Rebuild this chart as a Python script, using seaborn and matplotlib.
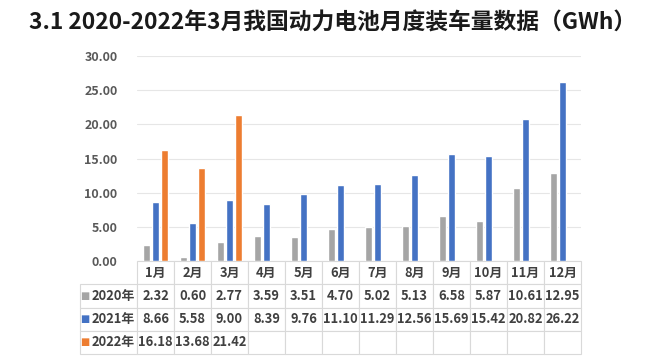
import numpy as np
import pandas as pd
import matplotlib
matplotlib.use('Agg')
import matplotlib.pyplot as plt
import seaborn as sns
from matplotlib.table import Table

# ── data ──────────────────────────────────────────────
MONTHS = ['1月', '2月', '3月', '4月', '5月', '6月',
          '7月', '8月', '9月', '10月', '11月', '12月']
YEARS = ['2020年', '2021年', '2022年']
V2020 = [2.32, 0.60, 2.77, 3.59, 3.51, 4.70, 5.02, 5.13, 6.58, 5.87, 10.61, 12.95]
V2021 = [8.66, 5.58, 9.00, 8.39, 9.76, 11.10, 11.29, 12.56, 15.69, 15.42, 20.82, 26.22]
V2022 = [16.18, 13.68, 21.42] + [np.nan] * 9
COLORS = ['#A5A5A5', '#4472C4', '#ED7D31']
TITLE = '3.1 2020-2022年3月我国动力电池月度装车量数据（GWh）'

sns.set_theme(style='white')
plt.rcParams['font.family'] = ['Noto Sans CJK SC', 'DejaVu Sans']

rows = []
for yr, vals in zip(YEARS, [V2020, V2021, V2022]):
    for m, v in zip(MONTHS, vals):
        rows.append({'month': m, 'year': yr, 'value': v})
df = pd.DataFrame(rows)

fig = plt.figure(figsize=(6.5, 3.59), dpi=100)
ax = fig.add_axes([137 / 650, 1 - 261 / 359, 444 / 650, 205 / 359])

sns.barplot(data=df, x='month', y='value', hue='year', order=MONTHS,
            hue_order=YEARS, palette=COLORS, width=0.7, gap=0.18,
            errorbar=None, ax=ax, legend=False, saturation=1)

ax.set_ylim(0, 30)
ax.set_xlim(-0.5, 11.5)
ax.set_yticks(np.arange(0, 31, 5))
ax.set_yticklabels([f'{t:.2f}' for t in np.arange(0, 31, 5)],
                   fontweight='bold', color='#595959', fontsize=9)
ax.set_xticklabels([])
ax.tick_params(axis='both', length=0)
ax.tick_params(axis='y', pad=14)
ax.set_xlabel('')
ax.set_ylabel('')
ax.yaxis.grid(True, color='#E6E6E6', linewidth=0.8)
ax.set_axisbelow(True)
for s in ax.spines.values():
    s.set_visible(False)

# ── data table under the chart ───────────────────────
x0 = -57 / 444
tbl = Table(ax, bbox=[x0, -93 / 205, 1 - x0, 93 / 205])
lab_w, col_w, row_h = 57, 37, 23
table_rows = [[''] + MONTHS]
for yr, vals in zip(YEARS, [V2020, V2021, V2022]):
    table_rows.append([yr] + ['' if np.isnan(v) else f'{v:.2f}' for v in vals])

for r, row in enumerate(table_rows):
    for c, txt in enumerate(row):
        w = lab_w if c == 0 else col_w
        loc = 'right' if c == 0 else 'center'
        cell = tbl.add_cell(r, c, width=w, height=row_h, text=txt, loc=loc,
                            edgecolor='#D9D9D9', facecolor='white')
        cell.set_linewidth(0.8)
        if r == 0 and c == 0:
            cell.visible_edges = ''
        cell.PAD = 0.04
        cell.get_text().set_fontweight('bold')
        cell.get_text().set_color('#404040')
tbl.auto_set_font_size(False)
tbl.set_fontsize(9.3)
ax.add_table(tbl)

# legend squares in the row labels
for i, col in enumerate(COLORS):
    yc = (261 - (296 + 23 * i)) / 205
    ax.text(-0.118, yc, '■', color=col, fontsize=7, ha='center', va='center',
            transform=ax.transAxes, family=['DejaVu Sans'])

fig.text(0.045, 0.936, TITLE, fontsize=16.4, fontweight='bold',
         color='#1a1a1a', va='center', ha='left')

fig.savefig('out.png', dpi=100)
